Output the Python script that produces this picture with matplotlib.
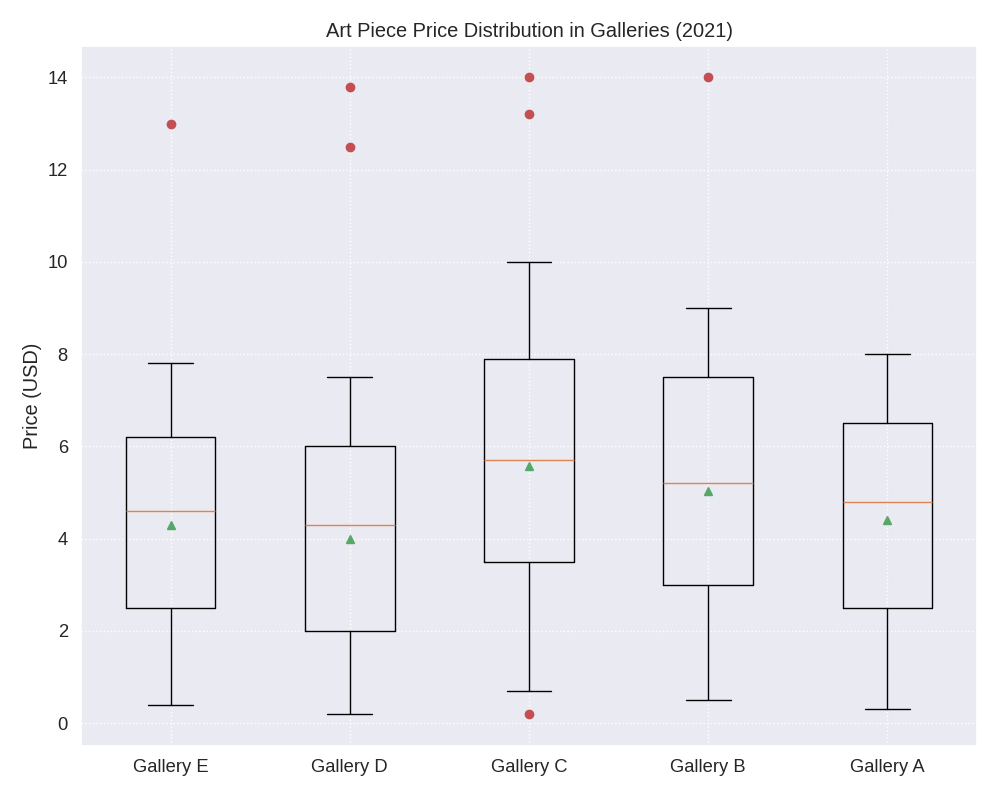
import numpy as np
import matplotlib.pyplot as plt
import seaborn as sns

sns.set_theme(style='darkgrid', font_scale=1.2)
plt.rcParams['font.family'] = ['Liberation Sans', 'DejaVu Sans']

galleries = ['Gallery E', 'Gallery D', 'Gallery C', 'Gallery B', 'Gallery A']
whislo = [0.4, 0.2, 0.7, 0.5, 0.3]
q1 = [2.5, 2.0, 3.5, 3.0, 2.5]
med = [4.6, 4.3, 5.7, 5.2, 4.8]
q3 = [6.2, 6.0, 7.9, 7.5, 6.5]
whishi = [7.8, 7.5, 10.0, 9.0, 8.0]
means = [4.29, 4.0, 5.57, 5.04, 4.4]
outliers = [[13.0], [13.8, 12.5], [14.0, 13.2, 0.2], [14.0], []]

stats = []
for i, name in enumerate(galleries):
	stats.append({'label': name, 'whislo': whislo[i], 'q1': q1[i], 'med': med[i],
				  'q3': q3[i], 'whishi': whishi[i], 'mean': means[i], 'fliers': outliers[i]})

fig, ax = plt.subplots(figsize=(10, 8))
ax.bxp(stats, showmeans=True,
	   flierprops=dict(marker='o', markerfacecolor='r', markeredgecolor='r', markersize=6))
ax.grid(True, linestyle=':', color='white')
ax.set_title('Art Piece Price Distribution in Galleries (2021)')
ax.set_ylabel('Price (USD)')
plt.subplots_adjust(left=0.081, right=0.977, top=0.943, bottom=0.068)
plt.savefig('out.png')
